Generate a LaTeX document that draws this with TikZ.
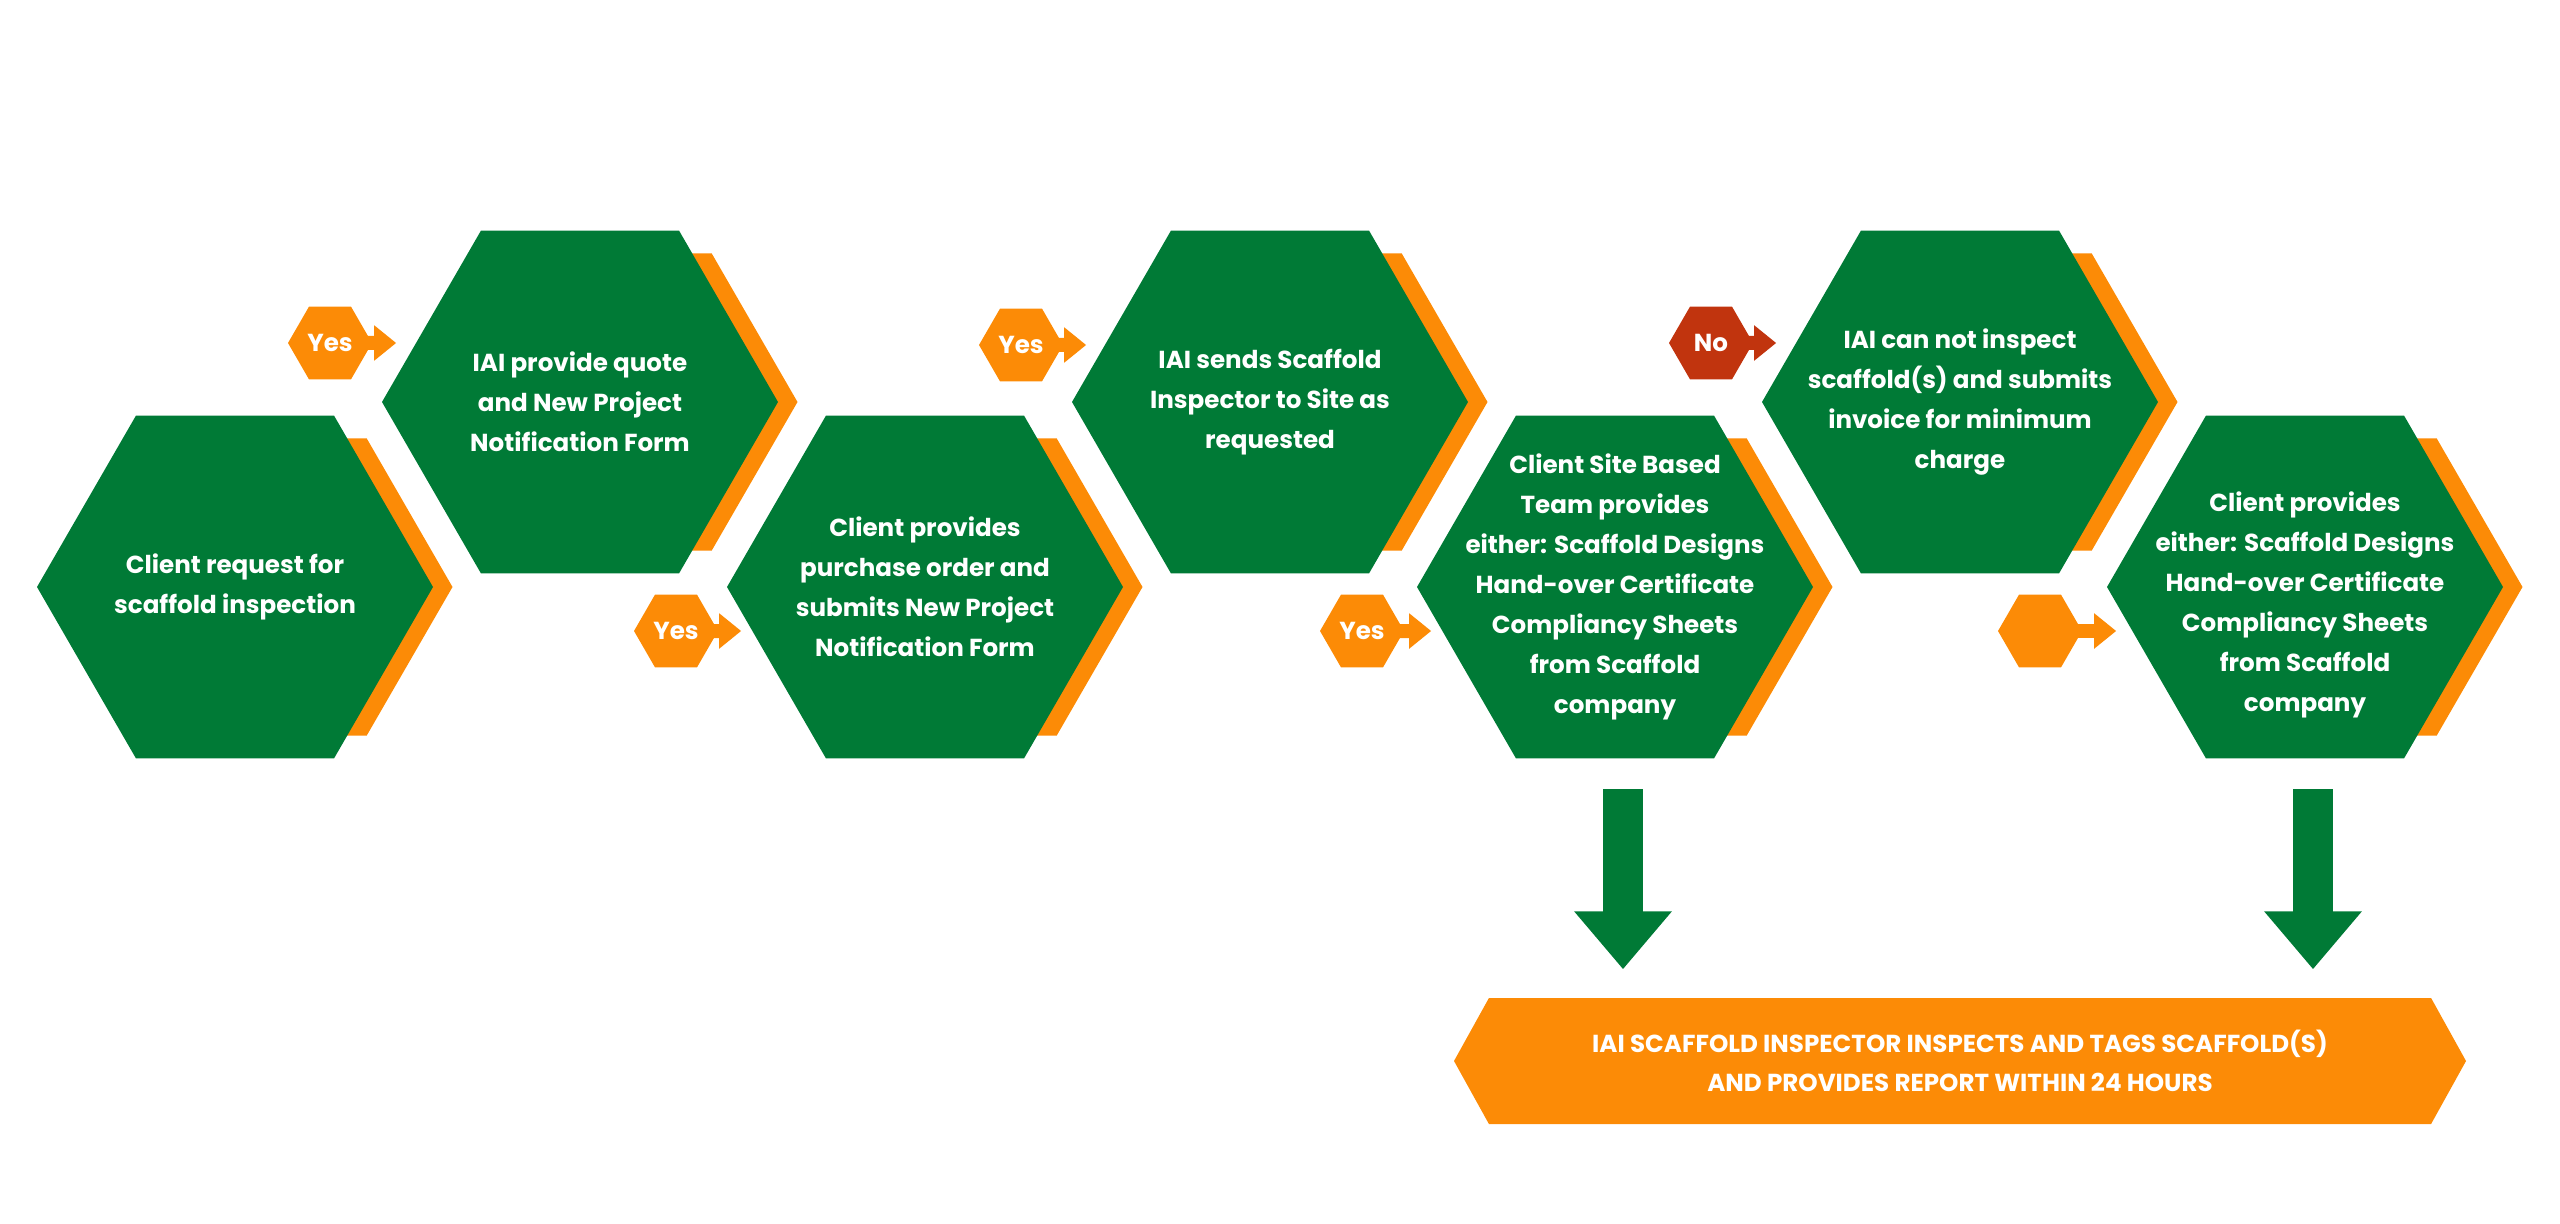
\documentclass[tikz,border=0pt]{standalone}
\usepackage{fontspec}
\setmainfont{Poppins}
\usetikzlibrary{arrows.meta,positioning,backgrounds,shapes.geometric,shapes.symbols}
\definecolor{iaigreen}{RGB}{0,122,54}
\definecolor{iaiorange}{RGB}{252,139,6}
\definecolor{iaired}{RGB}{193,52,14}
\tikzset{
    %Define standard arrow tip
    >={Triangle[length=2.2mm,width=3.4mm]},
    hexa/.style={
      regular polygon,
      regular polygon sides=6,
      fill=iaigreen,
      minimum size=3.96cm,
      inner sep=0pt},
    backhexa/.style={
      regular polygon,
      regular polygon sides=6,
      fill=iaiorange,
      minimum size=3.43cm,
      inner sep=0pt},
    hextext/.style={
      text=white,
      font=\bfseries\fontsize{7}{11.4}\selectfont,
      align=center},
    tag/.style={
      regular polygon,
      regular polygon sides=6,
      fill=iaiorange,
      minimum size=0.84cm,
      inner sep=0pt,
      text=white,
      font=\bfseries\fontsize{7}{8}\selectfont},
    tagarrow/.style={
      ->, draw=iaiorange, line width=1.4mm,
      shorten <=-1mm, shorten >=-1.5mm},
    downarrow/.style={
      -{Triangle[length=5.8mm,width=9.4mm]},
      draw=iaigreen, line width=4mm,
      shorten <=3mm, shorten >=2.8mm},
    banner/.style={
      signal, signal to=west and east,
      signal pointer angle=122,
      fill=iaiorange,
      minimum width=10.12cm,
      minimum height=1.26cm,
      text=white,
      align=center,
      font=\bfseries\fontsize{7}{11}\selectfont},
}
\begin{document}
\begin{tikzpicture}[node distance=3.45cm]
    \useasboundingbox (0,0) rectangle (25.6,-12.24);
    % main steps
    \node (h1) [hexa, label={[hextext]center:{Client request for\\scaffold inspection}}]
          at (2.35,-5.87) {};
    \node (h2) [hexa, right of=h1, yshift=1.85cm,
          label={[hextext]center:{IAI provide quote\\and New Project\\Notification Form}}] {};
    \node (h3) [hexa, right of=h2, yshift=-1.85cm,
          label={[hextext]center:{Client provides\\purchase order and\\submits New Project\\Notification Form}}] {};
    \node (h4) [hexa, right of=h3, yshift=1.85cm,
          label={[hextext]center:{IAI sends Scaffold\\Inspector to Site as\\requested}}] {};
    \node (h5) [hexa, right of=h4, yshift=-1.85cm,
          label={[hextext]center:{Client Site Based\\Team provides\\either: Scaffold Designs\\Hand-over Certificate\\Compliancy Sheets\\from Scaffold\\company}}] {};
    \node (h6) [hexa, right of=h5, yshift=1.85cm,
          label={[hextext]center:{IAI can not inspect\\scaffold(s) and submits\\invoice for minimum\\charge}}] {};
    \node (h7) [hexa, right of=h6, yshift=-1.85cm,
          label={[hextext, yshift=-1.8mm]center:{Client provides\\either: Scaffold Designs\\Hand-over Certificate\\Compliancy Sheets\\from Scaffold\\company}}] {};
    % orange edges behind the steps
    \begin{scope}[on background layer]
      \node (b1) [backhexa, xshift=0.46cm] at (h1) {};
      \node (b2) [backhexa, xshift=0.46cm] at (h2) {};
      \node (b3) [backhexa, xshift=0.46cm] at (h3) {};
      \node (b4) [backhexa, xshift=0.46cm] at (h4) {};
      \node (b5) [backhexa, xshift=0.46cm] at (h5) {};
      \node (b6) [backhexa, xshift=0.46cm] at (h6) {};
      \node (b7) [backhexa, xshift=0.46cm] at (h7) {};
    \end{scope}
    % answers
    \node (y1) [tag, left of=h2, xshift=0.95cm, yshift=0.59cm] {Yes};
    \node (y2) [tag, left of=h3, xshift=0.96cm, yshift=-0.44cm] {Yes};
    \node (y3) [tag, left of=h4, xshift=0.96cm, yshift=0.57cm] {Yes};
    \node (n4) [tag, fill=iaired, left of=h6, xshift=0.96cm, yshift=0.59cm] {No};
    \node (y5) [tag, left of=h5, xshift=0.92cm, yshift=-0.44cm] {Yes};
    \node (y6) [tag, left of=h7, xshift=0.80cm, yshift=-0.44cm] {};
    \draw[tagarrow] (y1.east) -- (y1 -| h2.west);
    \draw[tagarrow] (y2.east) -- (y2 -| h3.west);
    \draw[tagarrow] (y3.east) -- (y3 -| h4.west);
    \draw[tagarrow, draw=iaired] (n4.east) -- (n4 -| h6.west);
    \draw[tagarrow] (y5.east) -- (y5 -| h5.west);
    \draw[tagarrow, shorten >=-1mm] (y6.east) -- (y6 -| h7.west);
    % result
    \node (banner) [banner, below of=h6, yshift=-3.14cm]
          {IAI SCAFFOLD INSPECTOR INSPECTS AND TAGS SCAFFOLD(S)\\AND PROVIDES REPORT WITHIN 24 HOURS};
    \draw[downarrow] ([xshift=0.8mm]h5.south) -- ([xshift=0.8mm]h5.south |- banner.north);
    \draw[downarrow] ([xshift=0.8mm]h7.south) -- ([xshift=0.8mm]h7.south |- banner.north);
\end{tikzpicture}
\end{document}
